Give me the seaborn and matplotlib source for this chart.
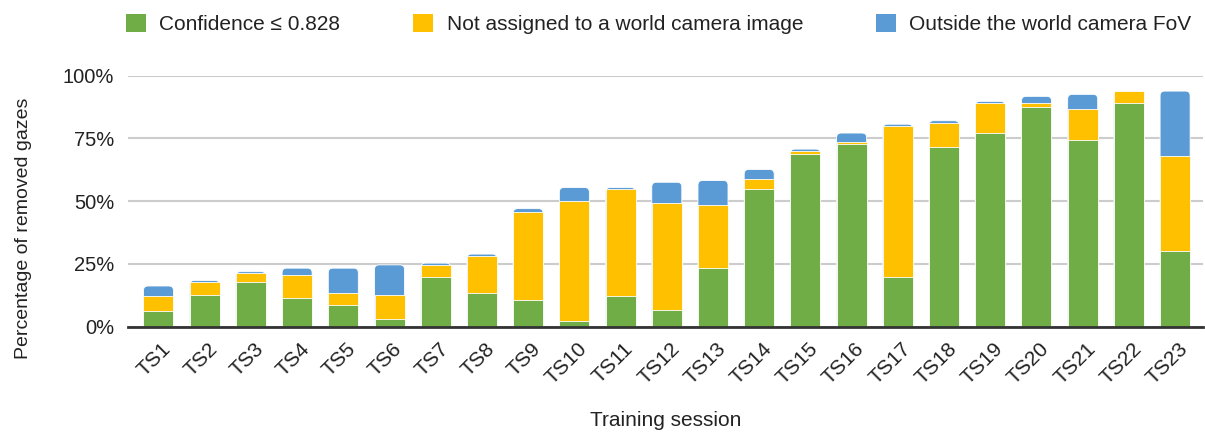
import numpy as np
import pandas as pd
import seaborn as sns
import matplotlib.pyplot as plt
from matplotlib.patches import Patch, FancyBboxPatch
from matplotlib.ticker import PercentFormatter
import matplotlib.transforms as mtransforms

# Values (% of gazes removed)
sessions = ['TS%d' % i for i in range(1, 24)]
confidence = [6.4, 12.7, 17.8, 11.4, 8.6, 2.9, 19.9, 13.4, 10.6, 2.3, 12.1, 6.5,
              23.3, 54.7, 68.8, 72.9, 19.8, 71.4, 77.1, 87.4, 74.2, 88.9, 30.2]
not_assigned = [5.8, 5.1, 3.4, 9.0, 4.8, 9.8, 4.7, 14.8, 35.1, 47.7, 42.6, 42.7,
                25.2, 4.1, 1.2, 0.6, 60.0, 9.8, 11.8, 1.5, 12.6, 4.9, 37.8]
outside_fov = [4.0, 0.6, 0.7, 2.9, 9.9, 11.9, 0.7, 0.7, 1.3, 5.4, 0.7, 8.3,
               9.7, 3.8, 0.7, 3.6, 0.8, 0.8, 0.8, 2.8, 5.7, 0.0, 25.8]

labels = ['Confidence \u2264 0.828', 'Not assigned to a world camera image',
          'Outside the world camera FoV']
colors = ['#70AD47', '#FFC000', '#5B9BD5']

df = pd.DataFrame({'session': sessions, 'conf': confidence,
                   'assign': not_assigned, 'fov': outside_fov})
df['lvl1'] = df['conf']
df['lvl2'] = df['conf'] + df['assign']
df['lvl3'] = df['lvl2'] + df['fov']

sns.set_theme(style='white')
plt.rcParams['font.family'] = ['Liberation Sans', 'DejaVu Sans']

fig = plt.figure(figsize=(12.05, 4.32), dpi=100)
ax = fig.add_axes([0.1062, 0.2438, 0.892, 0.5814])

# stacked bars: draw cumulative totals back to front
for col, color in zip(['lvl3', 'lvl2', 'lvl1'], colors[::-1]):
    n_before = len(ax.patches)
    sns.barplot(data=df, x='session', y=col, color=color, width=0.65,
                saturation=1, edgecolor='white', linewidth=0.6, ax=ax, zorder=3)
    if col == 'lvl3':
        # give the back bars rounded tops like the original chart
        for p in list(ax.patches[n_before:]):
            x, y = p.get_x(), p.get_y()
            w, h = p.get_width(), p.get_height()
            rb = FancyBboxPatch((x, y), w, h, boxstyle='round,pad=0,rounding_size=0.1',
                                mutation_aspect=18.4, facecolor=color,
                                edgecolor='white', linewidth=0.6, zorder=3)
            p.remove()
            ax.add_patch(rb)

ax.set_xlim(-0.66, 22.6)
ax.set_ylim(0, 100)
ax.set_yticks([0, 25, 50, 75, 100])
ax.yaxis.set_major_formatter(PercentFormatter(decimals=0))
ax.grid(axis='y', color='#cccccc', linewidth=1.5, zorder=0)
for s in ['top', 'right', 'left']:
    ax.spines[s].set_visible(False)
ax.spines['bottom'].set_color('#333333')
ax.spines['bottom'].set_linewidth(2)
ax.spines['bottom'].set_zorder(5)

ax.tick_params(axis='y', length=4, color='#cccccc', labelsize=14.5, pad=6, labelcolor='#222222')
ax.tick_params(axis='x', length=0, labelsize=15, pad=9, labelcolor='#222222')
offset = mtransforms.ScaledTranslation(0.03, 0, fig.dpi_scale_trans)
for lab in ax.get_xticklabels():
    lab.set_rotation(45)
    lab.set_ha('right')
    lab.set_rotation_mode('anchor')
    lab.set_transform(lab.get_transform() + offset)

ax.set_xlabel('Training session', fontsize=15, color='#222222')
ax.xaxis.set_label_coords(0.5, -0.335)
ax.set_ylabel('Percentage of removed gazes', fontsize=14, color='#222222')
ax.yaxis.set_label_coords(-0.089, 0.393)

handles = [Patch(facecolor=c, edgecolor='none') for c in colors]
fig.legend(handles, labels, loc='upper left', bbox_to_anchor=(0.089, 1.012),
           ncol=3, frameon=False, fontsize=15, handlelength=0.95, handleheight=0.95,
           handletextpad=0.65, columnspacing=3.5, labelcolor='#222222')

fig.savefig('out.png', dpi=100)
